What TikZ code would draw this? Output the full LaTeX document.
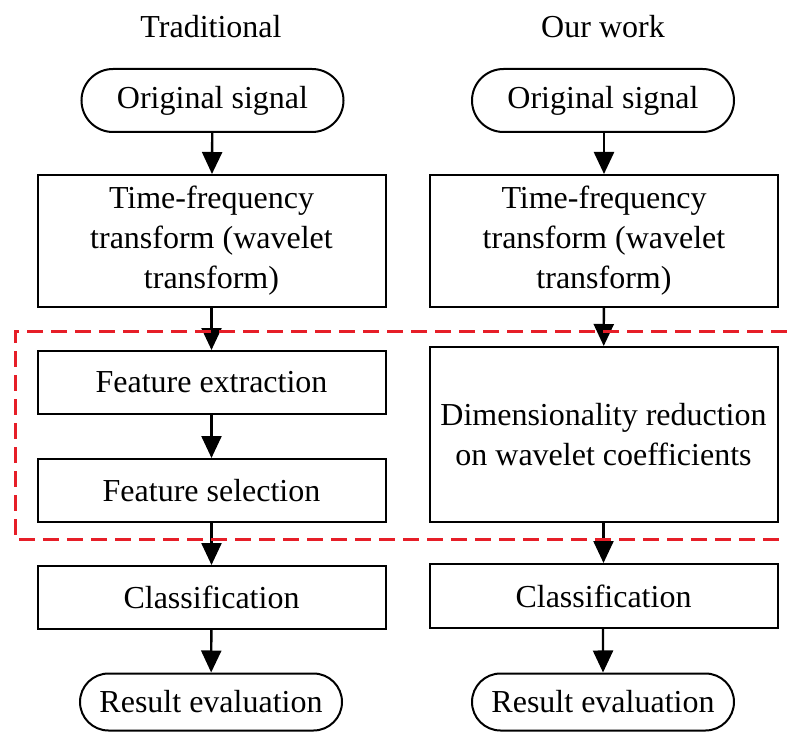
\documentclass[tikz,border=0pt]{standalone}
\usepackage{fontspec}
\setmainfont{Liberation Serif}
\usetikzlibrary{arrows.meta,shapes.misc}
\definecolor{dashred}{RGB}{230,30,40}

\begin{document}
\begin{tikzpicture}[x=0.5pt, y=-0.5pt,
		every node/.style={font=\fontsize{16}{20}\selectfont, align=center, inner sep=0pt},
		box/.style={draw, line width=1pt, minimum width=174pt, minimum height=31.5pt},
		term/.style={draw, line width=1pt, rounded rectangle, minimum width=131pt, minimum height=31.5pt},
		flow/.style={line width=1.2pt, -{Triangle[length=11pt, width=10pt]}}]
			%%%%% START %%%%%
			\useasboundingbox (0, 0) rectangle (787, 733);
			
			% column titles
			\node (tradtitle) at (211, 27) {Traditional};
			\node (ourtitle) at (603, 27) {Our work};
			
			% traditional pipeline
			\node[term] (sigL) at (212.5, 100.5) {Original signal};
			\node[box, minimum height=66pt] (tfL) at (211.5, 241) {Time-frequency\\transform (wavelet\\transform)};
			\node[box] (extL) at (211.5, 382.5) {Feature extraction};
			\node[box] (selL) at (211.5, 490.5) {Feature selection};
			\node[box] (clsL) at (211.5, 597.5) {Classification};
			\node[term, minimum height=28.5pt] (resL) at (211, 702) {Result evaluation};
			
			% our pipeline
			\node[term] (sigR) at (603, 100.5) {Original signal};
			\node[box, minimum height=66pt] (tfR) at (604, 241) {Time-frequency\\transform (wavelet\\transform)};
			\node[box, minimum height=87.5pt] (dimR) at (603.5, 434.5) {Dimensionality reduction\\on wavelet coefficients};
			\node[box, minimum height=32pt] (clsR) at (603.5, 596) {Classification};
			\node[term, minimum height=28.5pt] (resR) at (603, 702) {Result evaluation};
			
			\draw[flow] (sigL) -- (tfL);
			\draw[flow] (tfL) -- (extL);
			\draw[flow] (extL) -- (selL);
			\draw[flow] (selL) -- (clsL);
			\draw[flow] (clsL) -- (resL);
			
			\draw[flow] (sigR.south -| tfR) -- (tfR);
			\draw[flow] (tfR) -- (dimR);
			\draw[flow] (dimR) -- (clsR);
			\draw[flow] (clsR.south -| resR) -- (resR);
			
			% highlighted stage
			\draw[line width=1.5pt, color=dashred, dash pattern=on 8pt off 4pt]
				(787, 331) -- (15, 331) -- (15, 539) -- (787, 539);
			
			%%%%% END %%%%%
\end{tikzpicture}
\end{document}
